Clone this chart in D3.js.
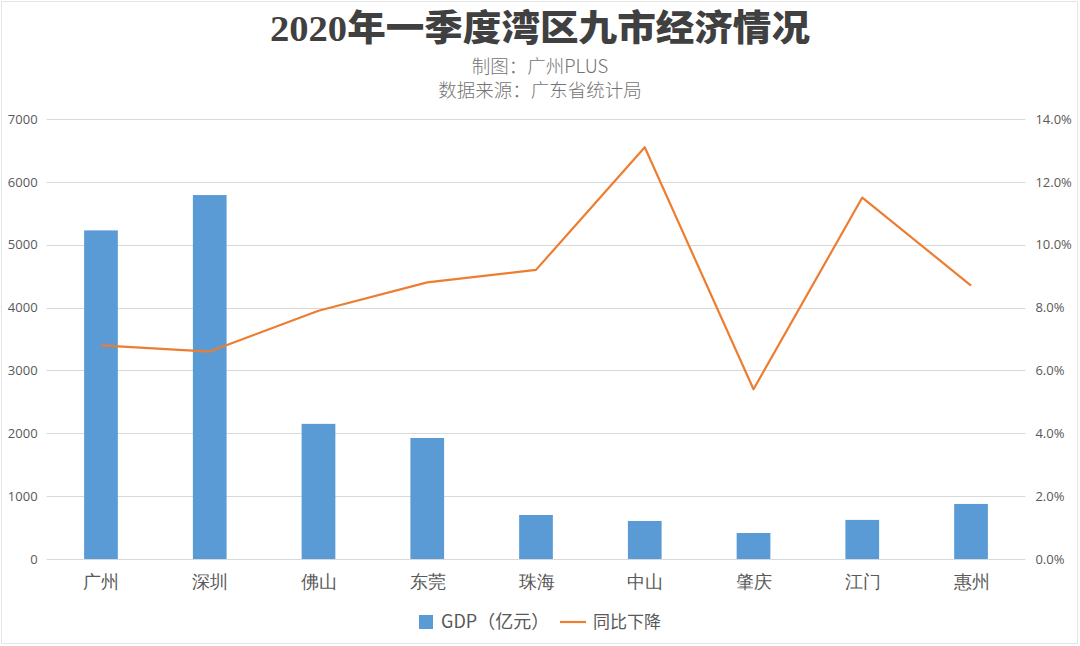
<!DOCTYPE html>
<html><head><meta charset="utf-8">
<script src="https://cdn.jsdelivr.net/npm/d3@7"></script>
<style>
html,body{margin:0;padding:0;background:#fff;}
svg{display:block;font-family:"Noto Sans CJK SC","Noto Sans",sans-serif;}
</style></head>
<body>
<svg id="chart" width="1080" height="646"></svg>
<script>
const categories = ["广州","深圳","佛山","东莞","珠海","中山","肇庆","江门","惠州"];
const gdpValues = [5228, 5790, 2150, 1925, 700, 605, 414, 622, 876];
const declineValues = [6.8, 6.6, 7.9, 8.8, 9.2, 13.1, 5.4, 11.5, 8.7];
const leftTicks = [0,1000,2000,3000,4000,5000,6000,7000];
const rightTicks = [0,2,4,6,8,10,12,14];
const titleText = "2020年一季度湾区九市经济情况";
const subtitleLines = ["制图：广州PLUS","数据来源：广东省统计局"];
const legendLabels = ["GDP（亿元）","同比下降"];

const svg = d3.select("#chart");
const W = 1080, H = 646;
const m = {left:46.6, right:1025.4, top:119, bottom:559};

svg.append("rect").attr("x",1.5).attr("y",1.5).attr("width",W-4).attr("height",H-4)
  .attr("fill","#fff").attr("stroke","#e4e4e4").attr("stroke-width",1);

const x = d3.scaleBand().domain(categories).range([m.left,m.right]).paddingInner(0.69).paddingOuter(0.345);
const xc = d3.scalePoint().domain(categories).range([m.left,m.right]).padding(0.5);
const yL = d3.scaleLinear().domain([0,7000]).range([m.bottom,m.top]);
const yR = d3.scaleLinear().domain([0,14]).range([m.bottom,m.top]);

// gridlines
svg.append("g").selectAll("line").data(leftTicks.filter(d=>d>0)).join("line")
  .attr("x1",m.left).attr("x2",m.right)
  .attr("y1",d=>Math.round(yL(d))+0.5).attr("y2",d=>Math.round(yL(d))+0.5)
  .attr("stroke","#d9d9d9").attr("stroke-width",1);

// left axis
const gL = svg.append("g").attr("transform",`translate(${m.left},0)`)
  .call(d3.axisLeft(yL).tickValues(leftTicks).tickSize(0).tickPadding(9).tickFormat(d3.format("d")));
gL.select(".domain").remove();
gL.selectAll("text").attr("font-size",13).attr("fill","#595959").attr("font-family","'Open Sans','Noto Sans',sans-serif");

// right axis
const gR = svg.append("g").attr("transform",`translate(${m.right},0)`)
  .call(d3.axisRight(yR).tickValues(rightTicks).tickSize(0).tickPadding(10).tickFormat(d=>d.toFixed(1)+"%"));
gR.select(".domain").remove();
gR.selectAll("text").attr("font-size",13).attr("fill","#595959").attr("font-family","'Open Sans','Noto Sans',sans-serif");

// bars
svg.append("g").selectAll("rect").data(categories).join("rect")
  .attr("x",d=>x(d)).attr("width",x.bandwidth())
  .attr("y",(d,i)=>yL(gdpValues[i])).attr("height",(d,i)=>yL(0)-yL(gdpValues[i]))
  .attr("fill","#5b9bd5");

// x axis baseline
svg.append("line").attr("x1",m.left).attr("x2",m.right)
  .attr("y1",m.bottom+0.5).attr("y2",m.bottom+0.5).attr("stroke","#d9d9d9");

const gX = svg.append("g").attr("transform",`translate(0,${m.bottom})`)
  .call(d3.axisBottom(xc).tickSize(0).tickPadding(16));
gX.select(".domain").remove();
gX.selectAll("text").attr("font-size",18).attr("fill","#595959");

// line
const line = d3.line().x((d,i)=>xc(categories[i])).y(d=>yR(d));
svg.append("path").datum(declineValues).attr("d",line)
  .attr("fill","none").attr("stroke","#ed7d31").attr("stroke-width",2.2).attr("stroke-linejoin","round");

// title
svg.append("text").attr("x",540).attr("y",41).attr("text-anchor","middle")
  .attr("font-size",36).attr("font-weight",900).attr("fill","#404040")
  .attr("textLength",540).attr("lengthAdjust","spacingAndGlyphs")
  .attr("font-family","'Liberation Serif','Noto Sans CJK SC',serif")
  .text(titleText);
svg.selectAll(".sub").data(subtitleLines).join("text").attr("class","sub")
  .attr("x",540).attr("y",(d,i)=>73+i*24).attr("text-anchor","middle")
  .attr("font-size",18.5).attr("font-weight",300).attr("fill","#737373").text(d=>d);

// legend
const lg = svg.append("g");
lg.append("rect").attr("x",419).attr("y",615).attr("width",14).attr("height",14).attr("fill","#5b9bd5");
lg.append("text").attr("x",441).attr("y",628).attr("font-size",18).attr("fill","#595959").text(legendLabels[0]);
lg.append("line").attr("x1",560).attr("x2",586).attr("y1",622).attr("y2",622).attr("stroke","#ed7d31").attr("stroke-width",2.2);
lg.append("text").attr("x",593).attr("y",628).attr("font-size",17).attr("fill","#595959").text(legendLabels[1]);
</script>
</body></html>
